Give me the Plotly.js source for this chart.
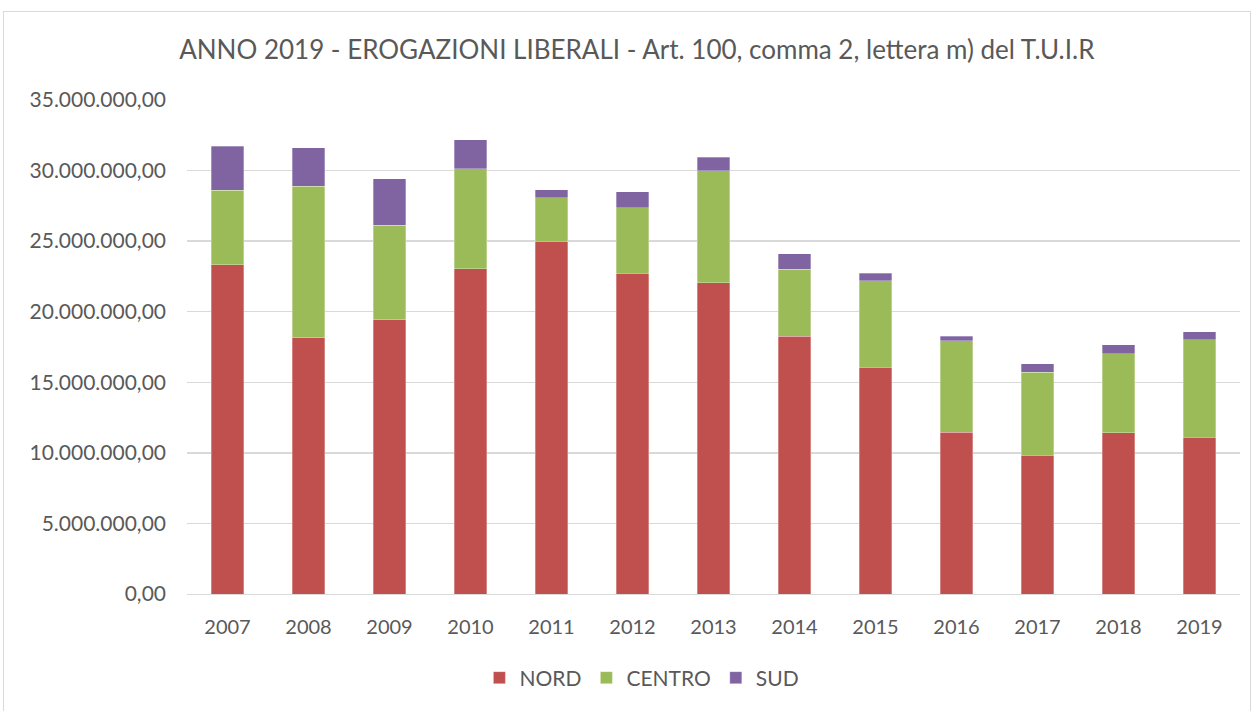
<!DOCTYPE html>
<html><head><meta charset="utf-8">
<script src="https://cdn.plot.ly/plotly-3.0.1.min.js"></script>
<style>
html,body{margin:0;padding:0;background:#fff;}
#frame{position:absolute;left:3px;top:11px;width:1248px;height:710px;border:1px solid #d9d9d9;box-sizing:border-box;}
#chart{position:absolute;left:0;top:0;width:1256px;height:711px;}
</style></head>
<body>
<div id="frame"></div>
<div id="chart"></div>
<script>
const years = ['2007','2008','2009','2010','2011','2012','2013','2014','2015','2016','2017','2018','2019'];
const nord   = [23320000,18170000,19430000,23040000,25000000,22730000,22070000,18250000,16050000,11450000,9820000,11410000,11100000];
const centro = [5280000,10720000,6700000,7090000,3060000,4640000,7920000,4760000,6160000,6510000,5880000,5610000,6930000];
const sud    = [3140000,2730000,3300000,2040000,590000,1120000,970000,1090000,520000,310000,630000,640000,550000];
const yTicks = [0,5000000,10000000,15000000,20000000,25000000,30000000,35000000];

const font = 'Lato, "Open Sans", sans-serif';
function tr(name, vals, color){
  return {type:'bar', name:name, x:years, y:vals, marker:{color:color, line:{color:'rgba(255,255,255,0.6)', width:0.5}},
    hoverinfo:'none'};
}
const data = [tr('NORD', nord, '#c0504d'), tr('CENTRO', centro, '#9bbb59'), tr('SUD', sud, '#8064a2')];
const layout = {
  width:1256, height:711,
  paper_bgcolor:'rgba(0,0,0,0)', plot_bgcolor:'rgba(0,0,0,0)',
  barmode:'stack', bargap:0.6,
  separators:',.',
  font:{family:font, color:'#595959', size:20},
  title:{text:'ANNO 2019 - EROGAZIONI LIBERALI - Art. 100, comma 2, lettera m) del T.U.I.R', font:{size:26, color:'#595959', family:font}, x:0.507, xanchor:'center', y:0.93, yanchor:'middle'},
  margin:{l:187, r:16, t:100, b:117, autoexpand:false},
  xaxis:{type:'category', showgrid:false, showline:true, linecolor:'#d9d9d9', linewidth:1, ticks:'', tickangle:0, automargin:false, ticklabelstandoff:15, tickfont:{size:20, color:'#595959'}},
  yaxis:{range:[0,35000000], tickvals:yTicks, tickformat:',.2f', automargin:false, showgrid:true, gridcolor:'#d9d9d9', gridwidth:1.5, zeroline:false, showline:false, ticks:'', ticklabelstandoff:20, tickfont:{size:21, color:'#595959'}},
  legend:{orientation:'h', x:0.432, xanchor:'center', y:-0.17, yanchor:'middle', font:{size:21, color:'#595959'}, traceorder:'normal'},
  showlegend:true
};
Plotly.newPlot('chart', data, layout, {staticPlot:true});
</script>
</body></html>
